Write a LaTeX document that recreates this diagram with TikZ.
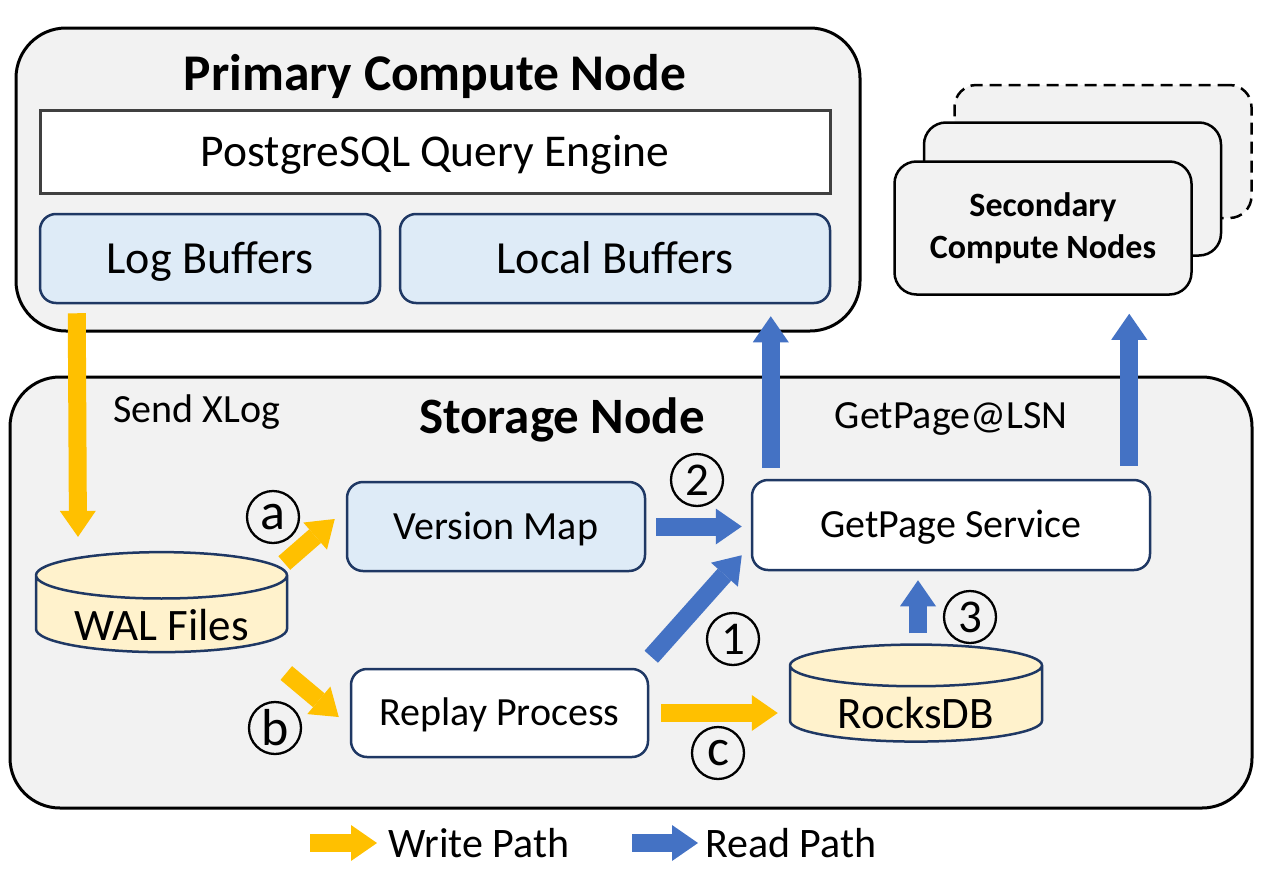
\documentclass[tikz,border=0pt]{standalone}
\usepackage{fontspec}
\setmainfont{Carlito}
\usetikzlibrary{arrows.meta,shapes.geometric,positioning}

\definecolor{boxgray}{HTML}{F2F2F2}
\definecolor{bufblue}{HTML}{DEEBF7}
\definecolor{dbyellow}{HTML}{FFF2CC}
\definecolor{navyline}{HTML}{1F3864}
\definecolor{enggray}{HTML}{404040}
\definecolor{writecol}{HTML}{FFC000}
\definecolor{readcol}{HTML}{4472C4}

\tikzset{
    outerbox/.style={draw=black, line width=3pt, fill=boxgray, rounded corners=50pt},
    stackbox/.style={draw=black, line width=2.5pt, fill=boxgray, rounded corners=22pt,
        minimum width=297pt, minimum height=133pt},
    innerbox/.style={draw=navyline, line width=2.5pt, rounded corners=16pt},
    dbnode/.style={cylinder, shape border rotate=90, aspect=0.256, draw=navyline,
        line width=2.5pt, fill=dbyellow},
    stepmark/.style={circle, draw, line width=2.3pt, minimum size=52pt, inner sep=0pt,
        font=\fontsize{47}{47}\selectfont},
    wpath/.style={draw=writecol, line width=18pt,
        -{Triangle[length=26pt, width=36pt, line width'=0pt]}},
    rpath/.style={draw=readcol, line width=18pt,
        -{Triangle[length=26pt, width=36pt, line width'=0pt]}}
}

\begin{document}
\begin{tikzpicture}[x=1pt, y=-1pt]
    \useasboundingbox (0,0) rectangle (1266,870);

    \begin{scope}[every node/.style={outerbox}]
        \node (primary) at (438,179.5) [minimum width=844pt, minimum height=303pt] {};
        \node (storage) at (631,592.5) [minimum width=1242pt, minimum height=431pt] {};
    \end{scope}

    % secondary compute nodes, back to front
    \node[stackbox, dashed, dash pattern=on 12pt off 7pt] (sec3) at (1103,151.5) {};
    \node[stackbox] (sec2) at (1072.5,189) {};
    \node[stackbox, align=center, font=\fontsize{34}{42}\selectfont\bfseries] (sec) at (1043,228)
        {Secondary\\Compute Nodes};

    \begin{scope}[every node/.style={inner sep=0pt, anchor=base}]
        \node[font=\fontsize{51.5}{60}\selectfont\bfseries] (ptitle) at (435,90) {Primary Compute Node};
        \node[font=\fontsize{51}{60}\selectfont\bfseries] (stitle) at (562,433) {Storage Node};
        \node[font=\fontsize{40}{48}\selectfont] (sendx) at (197,422) {Send XLog};
        \node[font=\fontsize{40}{48}\selectfont] (getlsn) at (951,428) {GetPage@LSN};
    \end{scope}

    \node[draw=enggray, line width=3pt, fill=white, minimum width=790pt, minimum height=83pt,
        font=\fontsize{45.5}{52}\selectfont, text height=29pt, text depth=0pt]
        (engine) at (435,151.5) {PostgreSQL Query Engine};

    \begin{scope}[every node/.style={innerbox, fill=bufblue, minimum height=89pt,
            font=\fontsize{46}{54}\selectfont, text height=29pt, text depth=0pt}]
        \node (logbuf) at (210,258.5) [minimum width=340pt] {Log Buffers};
        \node (localbuf) at (615,258.5) [minimum width=430pt] {Local Buffers};
    \end{scope}

    \begin{scope}[every node/.style={innerbox, font=\fontsize{40}{48}\selectfont,
            text height=25.5pt, text depth=0pt}]
        \node (vmap) at (496,526.5) [fill=bufblue, minimum width=298pt, minimum height=89pt] {Version Map};
        \node (getpage) at (951,525) [fill=white, minimum width=398pt, minimum height=90pt] {GetPage Service};
        \node (replay) at (499.5,713) [fill=white, minimum width=297pt, minimum height=88pt] {Replay Process};
    \end{scope}

    \node[dbnode, minimum width=251pt, minimum height=100pt, font=\fontsize{45}{52}\selectfont]
        (wal) at (161.5,617) {\raisebox{-23pt}[0pt][0pt]{WAL Files}};
    \node[dbnode, minimum width=252pt, minimum height=97pt, font=\fontsize{45}{52}\selectfont]
        (rocks) at (916,706.5) {\raisebox{-21.5pt}[0pt][0pt]{RocksDB}};

    % write path
    \draw[wpath] ([xshift=38pt,yshift=-9pt]logbuf.south west) -- ([xshift=-83.5pt,yshift=14pt]wal.north);
    \draw[wpath] ([xshift=-4pt,yshift=54pt]wal.east) -- ([xshift=-11pt,yshift=7.5pt]vmap.west);
    \draw[wpath] ([xshift=-2pt,yshift=-56pt]wal.east) -- ([xshift=-11pt,yshift=-4pt]replay.west);
    \draw[wpath] ([xshift=12pt]replay.east) -- ([xshift=-11pt]replay.east -| rocks.west);

    % read path
    \draw[rpath] ([xshift=10pt]vmap.east) -- ([xshift=-9pt]vmap.east -| getpage.west);
    \draw[rpath] ([xshift=2pt,yshift=11pt]replay.north east) -- ([xshift=-9pt,yshift=16pt]getpage.south west);
    \draw[rpath] ([xshift=2pt,yshift=10pt]rocks.north) -- ([xshift=-33pt,yshift=-9pt]getpage.south);
    \coordinate (upl) at ([xshift=20pt,yshift=11pt]getpage.north west);
    \coordinate (upr) at ([xshift=-22pt,yshift=13pt]getpage.north east);
    \draw[rpath] (upl) -- ([yshift=-12pt]upl |- localbuf.south);
    \draw[rpath] (upr) -- ([yshift=-18pt]upr |- sec.south);

    \begin{scope}[every node/.style={stepmark}]
        \node (sa) at (273,517) {\fontsize{52}{52}\selectfont a};
        \node (sb) at (275,728) {\fontsize{52}{52}\selectfont b};
        \node (sc) at (718,753) {\fontsize{52}{52}\selectfont c};
        \node (s1) at (733,639) {1};
        \node (s2) at (697,480) {2};
        \node (s3) at (970,617) {3};
    \end{scope}

    % legend
    \begin{scope}[every node/.style={inner sep=0pt, anchor=west, font=\fontsize{42}{50}\selectfont}]
        \node (wlegend) at (388,843) {Write Path};
        \node (rlegend) at (705,843) {Read Path};
    \end{scope}
    \draw[wpath] ([xshift=-78pt]wlegend.west) -- ([xshift=-11pt]wlegend.west);
    \draw[rpath] ([xshift=-73pt]rlegend.west) -- ([xshift=-7pt]rlegend.west);
\end{tikzpicture}
\end{document}
